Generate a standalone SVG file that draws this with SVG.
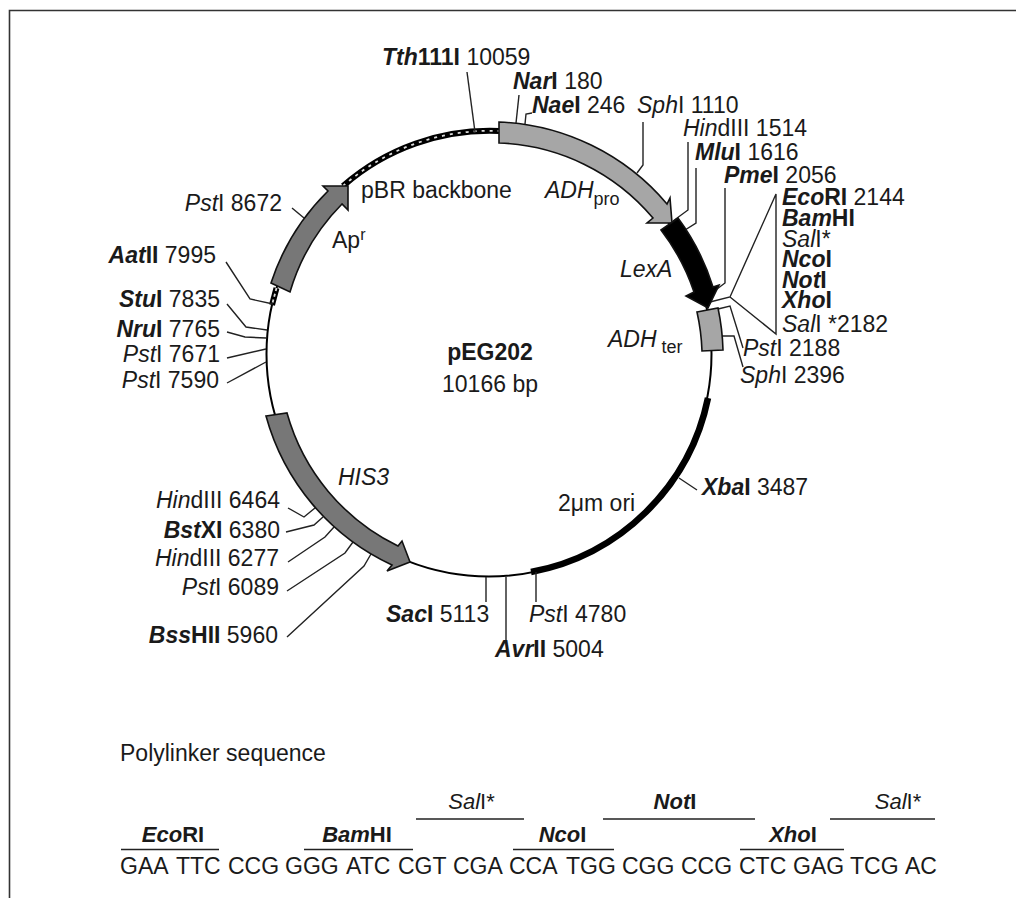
<svg xmlns="http://www.w3.org/2000/svg" width="1016" height="898" viewBox="0 0 1016 898">
<style>
text{font-family:"Liberation Sans",Arial,Helvetica,sans-serif;font-size:23px;fill:#1a1a1a}
.b{font-weight:700}
.i{font-style:italic}
.bi{font-weight:700;font-style:italic}
.e{text-anchor:end}
.m{text-anchor:middle}
.p{font-size:22px}
.sub{font-size:18px;font-style:normal}
.lead{fill:none;stroke:#222;stroke-width:1.4;stroke-linejoin:miter}
.ring{fill:none;stroke:#000;stroke-width:2}
.gene{stroke:#111;stroke-width:1.6;stroke-linejoin:miter}
.lt{fill:#a6a6a6}
.dk{fill:#777}
.bar{fill:none;stroke:#222;stroke-width:1.6}
</style>
<rect width="1016" height="898" fill="#fff"/>
<path id="frame" d="M9.5,898V10.5H1016" fill="none" stroke="#333" stroke-width="1.6"/>
<g id="plasmid-ring">
<circle class="ring" cx="489" cy="354" r="222.5"/>
<path id="ori-arc" d="M708,398A222.5,222.5 0 0 1 531,572" fill="none" stroke="#000" stroke-width="6.5"/>
<g id="pbr-backbone-arc">
<path d="M343,186A223,223 0 0 1 499,131" fill="none" stroke="#000" stroke-width="6"/>
<path d="M343,186A223,223 0 0 1 499,131" fill="none" stroke="#ddd" stroke-width="1.8" stroke-dasharray="3 5"/>
<path d="M276.5,288L272,305" fill="none" stroke="#000" stroke-width="6"/>
<path d="M276.5,288L272,305" fill="none" stroke="#ddd" stroke-width="1.8" stroke-dasharray="3 3"/>
</g>
</g>
<g id="connectors">
<path class="lead" d="M467,72L475,132"/>
<path class="lead" d="M519,95L516,123"/>
<path class="lead" d="M532,113L526,114L525,124"/>
<path class="lead" d="M643,122V165L637,173"/>
<path class="lead" d="M688,142V210L673,221"/>
<path class="lead" d="M696,168V223L685,230"/>
<path class="lead" d="M725,188V283L713,292"/>
<path class="lead" d="M710,302L730,297L776,194V334L730,297"/>
<path class="lead" d="M743,348L730,306L718,309"/>
<path class="lead" d="M743,367L734,336L722,336"/>
<path class="lead" d="M679,478L697,490"/>
<path class="lead" d="M536,572V602"/>
<path class="lead" d="M486,577V602"/>
<path class="lead" d="M506,577V640"/>
<path class="lead" d="M292,208L304,218"/>
<path class="lead" d="M226,262L250,299L273,304"/>
<path class="lead" d="M227,304L246,327L267,330"/>
<path class="lead" d="M227,332L245,337L266,338"/>
<path class="lead" d="M227,358L266,349"/>
<path class="lead" d="M227,383L266,362"/>
<path class="lead" d="M288,508L304,517L315,508"/>
<path class="lead" d="M286,532L314,525L323,517"/>
<path class="lead" d="M288,562L325,537L334,527"/>
<path class="lead" d="M287,591L345,553L353,542"/>
<path class="lead" d="M287,637L364,566L371,554"/>
</g>
<g id="gene-adh-pro">
<path class="gene lt" d="M499,122A232,232 0 0 1 667,204L670,198L672,223L647,223L653,218A211,211 0 0 0 499,143Z"/>
<text class="i" x="545" y="198">ADH<tspan class="sub" dy="7">pro</tspan></text>
</g>
<g id="gene-lexa">
<path class="gene" fill="#000" d="M678,218A233,233 0 0 1 713,287L719,285L708,308L686,296L694,292A213,213 0 0 0 661,230Z"/>
<text class="i" x="620" y="277">LexA</text>
</g>
<g id="gene-adh-ter">
<path class="gene lt" d="M697,312L718,308A233,233 0 0 1 723,350L702,351A213,213 0 0 0 697,312Z"/>
<text class="i" x="608" y="347">ADH<tspan class="sub" dx="5" dy="6">ter</tspan></text>
</g>
<g id="gene-his3">
<path class="gene dk" d="M266,416L287,413A211,211 0 0 0 398,546L402,541L410,562L387,571L392,565A232,232 0 0 1 266,416Z"/>
<text class="i" x="338" y="485">HIS3</text>
</g>
<g id="gene-apr">
<path class="gene dk" d="M271,283A229,229 0 0 1 328,191L323,186H348V210L342,204A209,209 0 0 0 290,292Z"/>
<text x="332" y="248">Ap<tspan font-size="16" dy="-8">r</tspan></text>
</g>
<g id="label-pbr"><text x="361" y="198">pBR backbone</text></g>
<g id="label-ori"><text x="558" y="511">2μm ori</text></g>
<g id="plasmid-title">
<text class="b m" x="490" y="360">pEG202</text>
<text class="m" x="490" y="392">10166 bp</text>
</g>
<g id="site-tth111i"><text x="382" y="65"><tspan class="bi">Tth</tspan><tspan class="b">111I</tspan> 10059</text></g>
<g id="site-nari"><text x="513" y="89"><tspan class="bi">Nar</tspan><tspan class="b">I</tspan> 180</text></g>
<g id="site-naei"><text x="532" y="113"><tspan class="bi">Nae</tspan><tspan class="b">I</tspan> 246</text></g>
<g id="site-sphi-1110"><text x="637" y="113"><tspan class="i">Sph</tspan>I 1110</text></g>
<g id="site-hindiii-1514"><text x="683" y="136"><tspan class="i">Hin</tspan>dIII 1514</text></g>
<g id="site-mlui"><text x="695" y="160"><tspan class="bi">Mlu</tspan><tspan class="b">I</tspan> 1616</text></g>
<g id="site-pmei"><text x="724" y="183"><tspan class="bi">Pme</tspan><tspan class="b">I</tspan> 2056</text></g>
<g id="site-ecori"><text x="782" y="205"><tspan class="bi">Eco</tspan><tspan class="b">RI</tspan> 2144</text></g>
<g id="site-bamhi"><text x="782" y="226"><tspan class="bi">Bam</tspan><tspan class="b">HI</tspan></text></g>
<g id="site-sali-a"><text x="782" y="247"><tspan class="i">Sal</tspan>I*</text></g>
<g id="site-ncoi"><text x="782" y="267"><tspan class="bi">Nco</tspan><tspan class="b">I</tspan></text></g>
<g id="site-noti"><text x="782" y="288"><tspan class="bi">Not</tspan><tspan class="b">I</tspan></text></g>
<g id="site-xhoi"><text x="782" y="308"><tspan class="bi">Xho</tspan><tspan class="b">I</tspan></text></g>
<g id="site-sali-b"><text x="782" y="332"><tspan class="i">Sal</tspan>I *2182</text></g>
<g id="site-psti-2188"><text x="743" y="356"><tspan class="i">Pst</tspan>I 2188</text></g>
<g id="site-sphi-2396"><text x="740" y="383"><tspan class="i">Sph</tspan>I 2396</text></g>
<g id="site-xbai"><text x="702" y="495"><tspan class="bi">Xba</tspan><tspan class="b">I</tspan> 3487</text></g>
<g id="site-psti-4780"><text x="529" y="622"><tspan class="i">Pst</tspan>I 4780</text></g>
<g id="site-saci"><text x="386" y="622"><tspan class="bi">Sac</tspan><tspan class="b">I</tspan> 5113</text></g>
<g id="site-avrii"><text x="495" y="657"><tspan class="bi">Avr</tspan><tspan class="b">II</tspan> 5004</text></g>
<g id="site-hindiii-6464"><text class="e" x="280" y="508"><tspan class="i">Hin</tspan>dIII 6464</text></g>
<g id="site-bstxi"><text class="e" x="280" y="538"><tspan class="bi">Bst</tspan><tspan class="b">XI</tspan> 6380</text></g>
<g id="site-hindiii-6277"><text class="e" x="279" y="566"><tspan class="i">Hin</tspan>dIII 6277</text></g>
<g id="site-psti-6089"><text class="e" x="279" y="595"><tspan class="i">Pst</tspan>I 6089</text></g>
<g id="site-bsshii"><text class="e" x="278" y="643"><tspan class="bi">Bss</tspan><tspan class="b">HII</tspan> 5960</text></g>
<g id="site-psti-8672"><text class="e" x="282" y="211"><tspan class="i">Pst</tspan>I 8672</text></g>
<g id="site-aatii"><text class="e" x="216" y="263"><tspan class="bi">Aat</tspan><tspan class="b">II</tspan> 7995</text></g>
<g id="site-stui"><text class="e" x="220" y="307"><tspan class="bi">Stu</tspan><tspan class="b">I</tspan> 7835</text></g>
<g id="site-nrui"><text class="e" x="220" y="337"><tspan class="bi">Nru</tspan><tspan class="b">I</tspan> 7765</text></g>
<g id="site-psti-7671"><text class="e" x="220" y="362"><tspan class="i">Pst</tspan>I 7671</text></g>
<g id="site-psti-7590"><text class="e" x="219" y="388"><tspan class="i">Pst</tspan>I 7590</text></g>
<g id="polylinker">
<text x="120" y="761">Polylinker sequence</text>
<text y="874"><tspan x="120">GAA</tspan> <tspan x="176">TTC</tspan> <tspan x="228">CCG</tspan> <tspan x="285">GGG</tspan> <tspan x="346">ATC</tspan> <tspan x="398">CGT</tspan> <tspan x="453">CGA</tspan> <tspan x="509">CCA</tspan> <tspan x="566">TGG</tspan> <tspan x="622">CGG</tspan> <tspan x="681">CCG</tspan> <tspan x="739">CTC</tspan> <tspan x="793">GAG</tspan> <tspan x="850">TCG</tspan> <tspan x="905">AC</tspan></text>
<path class="bar" d="M121,849.5H219M304,849.5H413M416,819H524M513,849.5H614M603,819H755M740,849.5H844M830,819H935"/>
<text class="m p" x="173" y="842"><tspan class="bi">Eco</tspan><tspan class="b">RI</tspan></text>
<text class="m p" x="357" y="842"><tspan class="bi">Bam</tspan><tspan class="b">HI</tspan></text>
<text class="m p" x="471.500" y="809"><tspan class="i">Sal</tspan>I*</text>
<text class="m p" x="562.500" y="842"><tspan class="bi">Nco</tspan><tspan class="b">I</tspan></text>
<text class="m p" x="675" y="809"><tspan class="bi">Not</tspan><tspan class="b">I</tspan></text>
<text class="m p" x="793" y="842"><tspan class="bi">Xho</tspan><tspan class="b">I</tspan></text>
<text class="m p" x="898" y="809"><tspan class="i">Sal</tspan>I*</text>
</g>
</svg>
